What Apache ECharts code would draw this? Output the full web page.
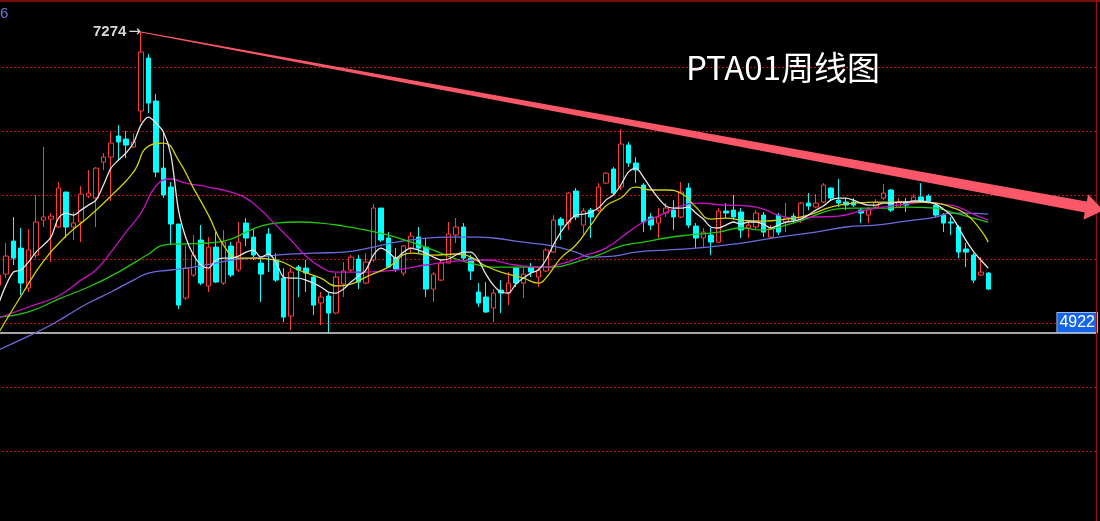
<!DOCTYPE html>
<html><head><meta charset="utf-8">
<script src="https://cdn.jsdelivr.net/npm/echarts@6/dist/echarts.min.js"></script>
<style>html,body{margin:0;padding:0;background:#000;overflow:hidden;width:1100px;height:521px;}
#c{position:absolute;left:-6px;top:0;width:1106px;height:521px;}</style>
</head><body><div id="c"></div>
<script>
// Weekly OHLC (PTA01)
const open = [5296,5382,5640,5585,5273,5531,5804,5812,5750,6023,5750,5789,5992,5976,6257,6296,6461,6437,6375,6656,
7070,6734,6210,6062,5773,5195,5375,5648,5289,5593,5312,5601,5414,5781,5671,5468,5695,5492,5351,5054,
5437,5429,5359,5156,5211,5078,5304,5414,5500,5312,5492,5898,5664,5507,5390,5585,5671,5593,5265,5335,
5468,5687,5750,5507,5242,5203,5117,5257,5234,5429,5312,5437,5359,5406,5554,5812,5781,6031,5765,5882,
5882,6093,6203,6062,6390,6250,6078,5828,5781,5859,5882,5828,6054,5757,5664,5687,5632,5875,5882,5867,
5742,5750,5843,5671,5843,5789,5835,5804,5937,5906,5945,6054,5960,5945,5945,5882,5843,5906,5976,6039,
5906,5945,5945,5984,5992,5921,5843,5789,5750,5578,5531,5375,5390];
const close = [5375,5523,5507,5312,5570,5789,5828,5835,6054,5750,5781,6007,6015,6210,6296,6406,6414,6390,6414,7117,
6718,6179,6000,5773,5140,5429,5531,5312,5593,5320,5632,5375,5632,5664,5531,5382,5531,5335,5046,5398,
5414,5390,5140,5203,5078,5359,5406,5515,5320,5476,5898,5648,5437,5421,5601,5679,5585,5265,5382,5468,
5695,5750,5507,5406,5156,5086,5234,5234,5312,5312,5382,5398,5414,5570,5804,5765,6015,5828,5875,5828,
6062,6171,6015,6398,6250,6195,5789,5765,5828,5898,5828,6023,5765,5664,5710,5632,5875,5859,5828,5726,
5765,5859,5710,5742,5710,5820,5804,5937,5914,5937,6078,5976,5937,5921,5921,5859,5890,5945,6015,5882,
5945,5921,5984,5945,5945,5843,5781,5781,5554,5554,5335,5398,5265];
const low = [5257,5351,5453,5218,5242,5507,5750,5476,5742,5664,5648,5632,5976,5750,6195,5953,6273,6289,6367,6570,
6640,6140,5976,5609,5109,5179,5359,5296,5242,5312,5296,5359,5398,5601,5492,5164,5398,5320,5008,4945,
5203,5242,5062,4984,4922,5070,5203,5398,5265,5304,5476,5632,5429,5398,5367,5546,5546,5203,5164,5328,
5468,5625,5492,5335,5125,5078,5008,5078,5140,5281,5195,5359,5281,5398,5546,5648,5726,5804,5687,5664,
5867,6085,6000,6039,6218,6093,5710,5726,5664,5828,5726,5820,5742,5585,5585,5531,5625,5820,5804,5664,
5664,5726,5671,5664,5687,5710,5781,5781,5882,5898,5937,5960,5906,5882,5906,5781,5781,5898,5960,5867,
5898,5867,5937,5937,5937,5828,5710,5687,5507,5437,5312,5367,5257];
const high = [5414,5625,5828,5742,5734,6000,6375,5859,6101,6023,5867,6070,6195,6218,6328,6492,6546,6500,6484,7274,
7101,6789,6492,6101,5773,5609,5687,5765,5671,5710,5726,5632,5789,5820,5734,5507,5742,5546,5429,5429,
5453,5492,5375,5242,5234,5390,5476,5531,5531,5546,5929,5898,5710,5585,5609,5710,5750,5664,5398,5492,
5789,5820,5781,5531,5312,5320,5265,5335,5398,5437,5429,5468,5437,5585,5843,5828,6023,6054,5898,5898,
6093,6179,6218,6515,6414,6296,6093,5859,5898,5937,5960,6101,6093,5781,5742,5742,5898,5937,6000,5898,
5789,5882,5867,5765,5859,5937,5859,5945,6015,6007,6093,6062,6125,5976,5976,5898,5906,5968,6085,6046,
5976,5976,6007,6093,6007,5945,5859,5828,5765,5625,5546,5515,5398];

// Moving averages
const ma5 = [5148,5296,5398,5414,5476,5554,5609,5671,5820,5859,5843,5882,5921,5960,6078,6210,6273,6328,6406,6546,
6609,6562,6492,6312,5882,5664,5531,5453,5429,5492,5507,5507,5523,5554,5570,5515,5539,5476,5359,5351,
5351,5335,5312,5281,5242,5234,5265,5320,5367,5414,5531,5585,5554,5507,5554,5585,5570,5546,5515,5492,
5500,5531,5554,5554,5492,5382,5296,5242,5234,5304,5351,5390,5414,5492,5609,5710,5789,5843,5851,5867,
5898,5960,6000,6078,6179,6210,6140,6054,5976,5914,5898,5898,5906,5859,5812,5750,5742,5765,5789,5773,
5789,5789,5773,5742,5765,5789,5796,5812,5843,5882,5914,5960,5976,5976,5960,5937,5921,5921,5937,5937,
5945,5945,5953,5953,5945,5929,5890,5843,5750,5648,5562,5492,5429];
const ma10 = [[0,4922],[3,5211],[6,5484],[9,5679],[12,5828],[15,5992],[18,6179],[20,6382],[22,6406],[24,6273],
[26,6054],[28,5843],[30,5609],[32,5507],[34,5507],[37,5492],[40,5414],[43,5351],[45,5289],[47,5304],[49,5359],
[52,5437],[55,5546],[58,5531],[61,5539],[63,5515],[65,5445],[67,5398],[70,5351],[72,5312],[73,5351],[75,5507],
[77,5609],[79,5765],[81,5914],[83,5976],[85,6062],[87,6039],[89,6039],[91,6015],[93,5906],[95,5812],[97,5820],
[99,5804],[102,5796],[105,5812],[108,5843],[111,5906],[114,5937],[118,5945],[122,5945],[125,5937],[127,5906],
[129,5851],[131,5726],[132,5632]];
const ma20 = [[0,5039],[4,5125],[8,5211],[11,5335],[13,5414],[15,5554],[17,5710],[19,5859],[21,6070],[23,6125],
[25,6093],[28,6062],[31,6023],[33,5976],[35,5882],[37,5765],[39,5648],[41,5523],[43,5437],[45,5398],[49,5398],
[53,5414],[57,5453],[61,5484],[65,5492],[69,5453],[72,5437],[75,5461],[78,5523],[81,5585],[84,5710],[86,5789],
[88,5835],[91,5914],[93,5937],[97,5921],[100,5914],[102,5890],[104,5843],[106,5820],[109,5828],[112,5835],
[115,5875],[118,5906],[121,5929],[124,5945],[126,5929],[128,5906],[130,5851],[132,5804]];
const ma40 = [[0,5046],[4,5086],[8,5187],[12,5281],[16,5398],[20,5539],[22,5609],[24,5617],[28,5625],[31,5656],
[33,5710],[35,5757],[37,5781],[40,5789],[43,5781],[46,5757],[49,5726],[52,5687],[55,5632],[58,5570],[61,5500],
[64,5453],[66,5437],[70,5437],[74,5437],[77,5476],[80,5531],[83,5601],[86,5632],[89,5664],[92,5687],[96,5710],
[99,5742],[102,5726],[105,5765],[108,5820],[111,5882],[114,5898],[118,5898],[121,5906],[125,5898],[127,5867],
[129,5835],[132,5789]];
const ma60 = [[0,4789],[4,4898],[7,4984],[9,5054],[12,5156],[15,5242],[18,5335],[20,5390],[23,5414],[26,5437],
[29,5468],[32,5500],[34,5507],[37,5531],[42,5546],[46,5554],[50,5593],[53,5632],[56,5656],[60,5671],[64,5671],
[66,5664],[70,5632],[74,5601],[77,5554],[79,5515],[82,5523],[85,5554],[89,5570],[93,5585],[97,5609],[100,5632],
[104,5671],[109,5710],[113,5750],[117,5765],[121,5796],[125,5828],[127,5859],[129,5859],[132,5851]];

const emptyWeeks = 14;
const yTicks = {min: 3500, max: 7500, step: 500};
const gridLevels = [4000, 4500, 5000, 5500, 6000, 6500, 7000];
const lastLine = 4922;
const peak = {index: 19, value: 7274};
const trendEnd = {index: 145, value: 5906};
const chartTitle = 'PTA01周线图';

const total = open.length + emptyWeeks;
const categories = [];
for (let i = 0; i < total; i++) categories.push('W' + (i + 1));
const ohlc = open.map((o, i) => [o, close[i], low[i], high[i]]);

const OFF = 6; // canvas starts 6px left of the page
const W = 1106, H = 521;
const chart = echarts.init(document.getElementById('c'));
const maLine = (name, data, color, smooth) => ({
  name, type: 'line', data, symbol: 'none', smooth, z: 5,
  lineStyle: {color, width: 1.3}, silent: true, animation: false
});
const baseGraphic = [
  {type: 'line', shape: {x1: 0, y1: 1, x2: W, y2: 1}, style: {stroke: '#a01010', lineWidth: 1.5}, z: 10},
  {type: 'line', shape: {x1: W - 3.5, y1: 0, x2: W - 3.5, y2: H}, style: {stroke: '#9a1010', lineWidth: 1}, z: 10},
  {type: 'text', left: OFF, top: 6, style: {text: '6', fill: '#7373d8', font: '15px "Liberation Sans"'}, z: 10},
  {type: 'text', left: OFF + 686, top: 51, style: {text: chartTitle, fill: '#ffffff', font: '33px "Noto Sans CJK SC"'}, z: 10}
];
chart.setOption({
  backgroundColor: '#000',
  animation: false,
  grid: {left: 0.75, right: 3, top: 3, bottom: 6},
  xAxis: {type: 'category', data: categories, boundaryGap: true,
    axisLine: {show: false}, axisTick: {show: false}, axisLabel: {show: false}, splitLine: {show: false}},
  yAxis: {type: 'value', position: 'right', min: yTicks.min, max: yTicks.max, interval: yTicks.step,
    axisLine: {show: false}, axisTick: {show: false}, axisLabel: {show: false}, splitLine: {show: false}},
  series: [
    {type: 'candlestick', data: ohlc, barWidth: 5, z: 3,
      itemStyle: {color: '#000', color0: '#00ffff', borderColor: '#ff3b3b', borderColor0: '#00ffff', borderWidth: 1},
      markLine: {symbol: 'none', silent: true, animation: false,
        data: [{yAxis: lastLine}],
        lineStyle: {color: '#dcdcdc', width: 1.5, type: 'solid'},
        label: {show: true, position: 'insideEndTop', formatter: String(lastLine), distance: [0, 1],
          color: '#fff', fontSize: 16, fontFamily: 'Liberation Sans',
          backgroundColor: '#1565e8', borderColor: '#9ab8f0', borderWidth: 1, padding: [2, 2, 1, 2]}},
      markPoint: {symbol: 'circle', symbolSize: 0, silent: true, animation: false,
        data: [{coord: [categories[peak.index], peak.value]}],
        label: {show: true, position: 'left', distance: 0, formatter: '{a|' + peak.value + '}{b|→}',
          rich: {a: {color: '#d8d8d8', fontSize: 15, fontWeight: 'bold', fontFamily: 'Liberation Sans'},
                 b: {color: '#d8d8d8', fontSize: 15, fontFamily: 'DejaVu Sans', padding: [0, 0, 0, 2]}}}}},
    maLine('MA60', ma60, '#6b6be0', true),
    maLine('MA40', ma40, '#22c80a', true),
    maLine('MA20', ma20, '#c412c4', true),
    maLine('MA10', ma10, '#cfcf10', true),
    maLine('MA5', ma5, '#e6e6e6', 0.3)
  ],
  graphic: baseGraphic
});

// Red dotted price grid, placed on the value axis
const gridLines = gridLevels.map(v => {
  const y = Math.round(chart.convertToPixel({yAxisIndex: 0}, v)) + 0.5;
  return {type: 'line', silent: true, z: 0, shape: {x1: 0, y1: y, x2: W - 4, y2: y},
    style: {stroke: '#c01414', lineWidth: 1, lineDash: [2, 2]}};
});

// Trend arrow from the peak, thin at start and widening, with a head
const p0 = chart.convertToPixel({xAxisIndex: 0, yAxisIndex: 0}, [peak.index, peak.value]);
const p1 = chart.convertToPixel({xAxisIndex: 0, yAxisIndex: 0}, [trendEnd.index, trendEnd.value]);
const dx = p1[0] - p0[0], dy = p1[1] - p0[1], L = Math.hypot(dx, dy);
const ux = dx / L, uy = dy / L, nx = -uy, ny = ux;
const w0 = 0.5, w1 = 5.5, hw = 13, hl = 18;
const pts = [
  [p0[0] + nx * w0, p0[1] + ny * w0],
  [p1[0] + nx * w1, p1[1] + ny * w1],
  [p1[0] + nx * hw, p1[1] + ny * hw],
  [p1[0] + ux * hl, p1[1] + uy * hl],
  [p1[0] - nx * hw, p1[1] - ny * hw],
  [p1[0] - nx * w1, p1[1] - ny * w1],
  [p0[0] - nx * w0, p0[1] - ny * w0]
];
chart.setOption({graphic: gridLines.concat(baseGraphic, [
  {type: 'polygon', shape: {points: pts}, style: {fill: '#fa5868'}, z: 20}
])}, {replaceMerge: ['graphic']});
</script></body></html>
